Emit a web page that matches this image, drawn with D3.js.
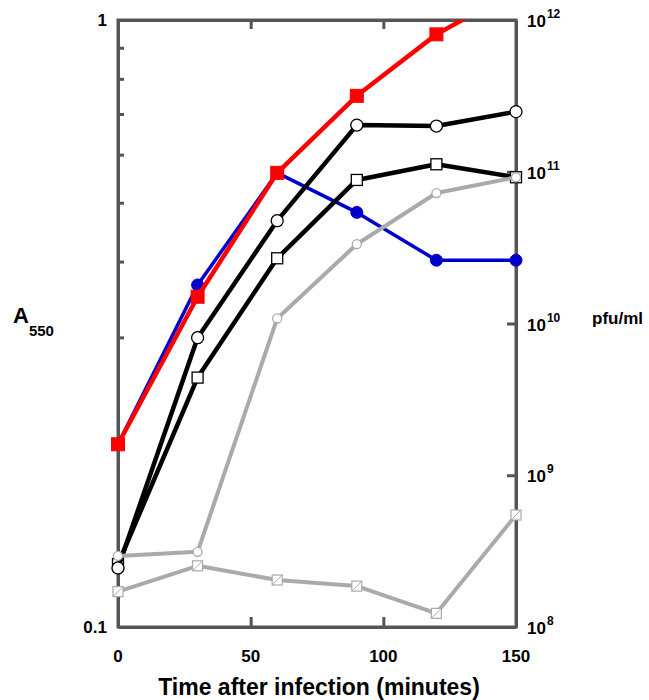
<!DOCTYPE html>
<html>
<head>
<meta charset="utf-8">
<script src="https://cdn.jsdelivr.net/npm/d3@7"></script>
<style>
  html, body { margin: 0; padding: 0; background: #fff; }
  svg { display: block; }
  text { font-family: "Liberation Sans", Arial, sans-serif; font-weight: bold; fill: #000; }
</style>
</head>
<body>
<svg id="chart" width="649" height="700"></svg>
<script>
// Sampling times (minutes after infection)
const times = [0, 30, 60, 90, 120, 150];

// Culture turbidity, A550 (left axis)
const a550Uninfected = [0.20, 0.350, 0.560, 0.750, 0.947, 1.12];
const a550Infected   = [0.20, 0.366, 0.560, 0.482, 0.402, 0.402];

// Phage titres, pfu/ml (right axis)
const pfuOpenCircle = [2.45e8, 8.06e9, 4.76e10, 2.03e11, 2.0e11, 2.49e11];
const pfuOpenSquare = [2.6e8, 4.4e9, 2.69e10, 8.83e10, 1.12e11, 9.2e10];
const pfuGreyCircle = [2.94e8, 3.13e8, 1.08e10, 3.33e10, 7.24e10, 9.2e10];
const pfuGreySquare = [1.71e8, 2.53e8, 2.04e8, 1.86e8, 1.23e8, 5.47e8];

// Axis ticks
const xTicks = [0, 50, 100, 150];
const leftMinorTicks = [0.2, 0.3, 0.4, 0.5, 0.6, 0.7, 0.8, 0.9];
const leftLabels = [0.1, 1];
const rightTicks = [1e9, 1e10, 1e11];
const rightLabelExps = [8, 9, 10, 11, 12];

const svg = d3.select("#chart");
const L = 118, R = 516, T = 20, B = 627;
const AXIS = "#555555";

const x = d3.scaleLinear().domain([0, 150]).range([L, R]);
const yL = d3.scaleLog().domain([0.1, 1]).range([B, T]);
const yR = d3.scaleLog().domain([1e8, 1e12]).range([B, T]);

function styleAxis(g) {
  g.selectAll(".domain").attr("stroke", AXIS).attr("stroke-width", 3);
  g.selectAll(".tick line").attr("stroke", AXIS).attr("stroke-width", 3);
  g.selectAll(".tick text").remove();
}

// Frame with inward ticks
svg.append("g").attr("transform", `translate(${L},0)`)
  .call(d3.axisRight(yL).tickValues(leftMinorTicks).tickSize(6).tickSizeOuter(0).tickFormat(""))
  .call(styleAxis);
svg.append("g").attr("transform", `translate(${R},0)`)
  .call(d3.axisLeft(yR).tickValues(rightTicks).tickSize(9).tickSizeOuter(0).tickFormat(""))
  .call(styleAxis);
svg.append("g").attr("transform", `translate(0,${B})`)
  .call(d3.axisTop(x).tickValues([50, 100]).tickSize(10).tickSizeOuter(0).tickFormat(""))
  .call(styleAxis);
svg.append("g").attr("transform", `translate(0,${T})`)
  .call(d3.axisBottom(x).tickValues([50, 100]).tickSize(9).tickSizeOuter(0).tickFormat(""))
  .call(styleAxis);
// square the frame corners
svg.append("path")
  .attr("d", `M${L},${B}V${T}H${R}V${B}H${L}`)
  .attr("fill", "none").attr("stroke", AXIS).attr("stroke-width", 3)
  .attr("stroke-linecap", "square");

// Tick labels
svg.append("g").selectAll("text").data(leftLabels).join("text")
  .attr("x", 107).attr("y", d => yL(d) + 6)
  .attr("text-anchor", "end").attr("font-size", 17)
  .text(d => d === 1 ? "1" : "0.1");

svg.append("g").selectAll("text").data(xTicks).join("text")
  .attr("x", d => x(d)).attr("y", 662)
  .attr("text-anchor", "middle").attr("font-size", 17)
  .text(d => d);

const rl = svg.append("g").selectAll("text").data(rightLabelExps).join("text")
  .attr("x", 527).attr("y", d => yR(Math.pow(10, d)) + 7)
  .attr("font-size", 17);
rl.append("tspan").text("10");
rl.append("tspan").attr("dy", -9).attr("dx", 1).attr("font-size", 12).text(d => d);

// Axis titles
const aLab = svg.append("text").attr("x", 13).attr("y", 323).attr("font-size", 22);
aLab.append("tspan").text("A");
aLab.append("tspan").attr("dy", 13).attr("font-size", 15).text("550");

svg.append("text").attr("x", 592).attr("y", 324).attr("font-size", 17).text("pfu/ml");

svg.append("text").attr("x", (L + R) / 2 + 2).attr("y", 695)
  .attr("text-anchor", "middle").attr("font-size", 23)
  .text("Time after infection (minutes)");

// Data
svg.append("defs").append("clipPath").attr("id", "plotClip")
  .append("rect").attr("x", L - 20).attr("y", T).attr("width", R - L + 40).attr("height", B - T + 20);

function drawSeries(values, yScale, opt) {
  const pts = times.map((t, i) => ({ t, v: values[i] }));
  const line = d3.line().x(d => x(d.t)).y(d => yScale(d.v));
  svg.append("path").datum(pts)
    .attr("clip-path", "url(#plotClip)")
    .attr("d", line)
    .attr("fill", "none").attr("stroke", opt.color)
    .attr("stroke-width", opt.width).attr("stroke-linejoin", "round");
  const inside = pts.filter(d => d.v <= yScale.domain()[1]);
  const g = svg.append("g");
  if (opt.marker === "circle") {
    g.selectAll("circle").data(inside).join("circle")
      .attr("cx", d => x(d.t)).attr("cy", d => yScale(d.v)).attr("r", opt.size)
      .attr("fill", opt.fill).attr("stroke", opt.mstroke).attr("stroke-width", opt.mwidth);
  } else {
    const s = opt.size;
    g.selectAll("rect").data(inside).join("rect")
      .attr("x", d => x(d.t) - s / 2).attr("y", d => yScale(d.v) - s / 2)
      .attr("width", s).attr("height", s)
      .attr("fill", opt.fill).attr("stroke", opt.mstroke).attr("stroke-width", opt.mwidth);
    if (opt.diagonal) {
      g.selectAll("line").data(inside).join("line")
        .attr("x1", d => x(d.t) - s / 2).attr("y1", d => yScale(d.v) + s / 2)
        .attr("x2", d => x(d.t) + s / 2).attr("y2", d => yScale(d.v) - s / 2)
        .attr("stroke", opt.mstroke).attr("stroke-width", 1);
    }
  }
}

drawSeries(a550Infected, yL, { color: "#0000cc", width: 3.5, marker: "circle", size: 6, fill: "#0000cc", mstroke: "#0000cc", mwidth: 1 });
drawSeries(a550Uninfected, yL, { color: "#ff0000", width: 4.5, marker: "square", size: 13, fill: "#ff0000", mstroke: "#ff0000", mwidth: 1 });
drawSeries(pfuOpenSquare, yR, { color: "#000000", width: 4.5, marker: "square", size: 11, fill: "#ffffff", mstroke: "#000000", mwidth: 1.3 });
drawSeries(pfuOpenCircle, yR, { color: "#000000", width: 4.5, marker: "circle", size: 6, fill: "#ffffff", mstroke: "#000000", mwidth: 1.3 });
drawSeries(pfuGreyCircle, yR, { color: "#aaaaaa", width: 4, marker: "circle", size: 4.5, fill: "#ffffff", mstroke: "#aaaaaa", mwidth: 1.3 });
drawSeries(pfuGreySquare, yR, { color: "#aaaaaa", width: 4, marker: "square", size: 10, fill: "#ffffff", mstroke: "#aaaaaa", mwidth: 1.2, diagonal: true });
</script>
</body>
</html>
